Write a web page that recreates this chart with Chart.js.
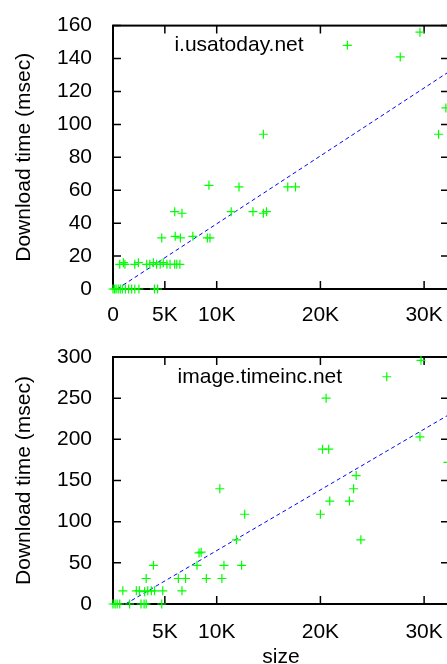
<!DOCTYPE html>
<html>
<head>
<meta charset="utf-8">
<script src="https://cdn.jsdelivr.net/npm/chart.js@4"></script>
<style>
html, body { margin: 0; padding: 0; background: #fff; overflow: hidden; width: 447px; height: 664px; }
canvas { position: absolute; left: 0; }
#topChart { top: 0; }
#bottomChart { top: 330px; }
</style>
</head>
<body>
<canvas id="topChart" width="460" height="330"></canvas>
<canvas id="bottomChart" width="460" height="350"></canvas>
<script>
// x ticks are not evenly spaced in the original (0, 5K, 10K, 20K, 30K)
var xTickValues = [0, 5000, 10000, 20000, 30000]
var xTickLabelsTop = [`0`, `5K`, `10K`, `20K`, `30K`]
var xTickLabelsBottom = [``, `5K`, `10K`, `20K`, `30K`]

// i.usatoday.net : size (bytes) / download time (msec)
var usatodaySize = [0, 150, 300, 500, 700, 900, 1200, 1500, 1800, 2100, 2500, 4000, 4300,
    650, 1000, 1150, 2100, 2450, 3250, 3550, 3900, 4200, 4550, 4850, 5200, 5500, 5950, 6150, 6450,
    4700, 6000, 6500, 7700, 9100, 9350,
    5950, 6650, 11400, 13500, 14500, 14800,
    9250, 12150, 16850, 17600,
    14500, 22600, 27700, 29600, 31400, 32100]
var usatodayTime = [0, 0, 0, 0, 0, 0, 0, 0, 0, 0, 0, 0, 0,
    15, 16, 15, 15, 16, 15, 15, 16, 15, 15, 16, 15, 15, 15, 15, 15,
    31, 32, 31, 32, 31, 31,
    47, 46, 47, 47, 46, 47,
    63, 62, 62, 62,
    94, 148, 141, 156, 94, 110]
var usatodayFitSize = [400, 32400]
var usatodayFitTime = [0, 132]

// image.timeinc.net
var timeincSize = [0, 200, 400, 650, 1600, 2700, 3000, 3200, 4700,
    950, 2250, 2550, 3050, 3350, 3700, 4000, 4800, 6650,
    3200, 6300, 7000, 9000, 10500,
    3900, 8100, 10700, 12400,
    8300, 8500,
    11900, 23900,
    12700, 20000,
    20900, 22800,
    10300, 23200,
    23450, 32300,
    20200, 20800,
    29600, 20550, 26400, 29700]
var timeincTime = [0, 0, 0, 0, 0, 0, 0, 0, 0,
    16, 16, 16, 15, 16, 16, 16, 16, 16,
    31, 31, 31, 31, 31,
    47, 47, 47, 47,
    62, 63,
    78, 78,
    109, 109,
    125, 125,
    140, 140,
    156, 172,
    188, 188,
    203, 250, 276, 296]
var timeincFitSize = [1200, 32400]
var timeincFitTime = [0, 230]

var fontFamily = `"Liberation Sans", Arial, Helvetica, sans-serif`
var fontSize = 21

Chart.defaults.color = `#000`
Chart.defaults.font.family = fontFamily
Chart.defaults.font.size = fontSize

// gnuplot style box with inward ticks on all four sides + label inside the plot
var framePlugin = {
    id: `frame`,
    beforeDatasetsDraw(chart, args, opts){
        var ctx = chart.ctx
        var a = chart.chartArea
        var x = chart.scales.x
        var y = chart.scales.y
        ctx.save()
        ctx.strokeStyle = `#000`
        ctx.lineWidth = 1.5
        ctx.beginPath()
        x.ticks.forEach(function(t){
            var px = x.getPixelForValue(t.value)
            ctx.moveTo(px, a.bottom); ctx.lineTo(px, a.bottom - 8)
            ctx.moveTo(px, a.top); ctx.lineTo(px, a.top + 8)
        })
        y.ticks.forEach(function(t){
            var py = y.getPixelForValue(t.value)
            ctx.moveTo(a.left, py); ctx.lineTo(a.left + 8, py)
            ctx.moveTo(a.right, py); ctx.lineTo(a.right - 8, py)
        })
        ctx.stroke()
        ctx.lineWidth = 2
        ctx.strokeRect(a.left, a.top, a.right - a.left, a.bottom - a.top)
        ctx.fillStyle = `#000`
        ctx.font = `${fontSize}px ${fontFamily}`
        ctx.textAlign = `center`
        ctx.textBaseline = `middle`
        ctx.fillText(opts.text, a.left + opts.fx * (a.right - a.left), a.top + opts.dy)
        ctx.restore()
    }
}

function toPoints(xs, ys){
    var list = []
    for(var pos = 0; pos < xs.length; pos++){
        list.push({x: xs[pos], y: ys[pos]})
    }
    return list
}

function makeChart(id, cfg){
    var canvas = document.getElementById(id)
    return new Chart(canvas, {
        type: `scatter`,
        data: {
            datasets: [{
                data: toPoints(cfg.sizes, cfg.times),
                pointStyle: `cross`,
                pointRadius: 4.5,
                pointBorderWidth: 1.2,
                borderColor: `#00ff00`,
                backgroundColor: `#00ff00`,
                clip: false
            }, {
                data: toPoints(cfg.fitSizes, cfg.fitTimes),
                showLine: true,
                pointRadius: 0,
                borderColor: `#0000ff`,
                borderWidth: 1,
                borderDash: [4, 3]
            }]
        },
        options: {
            responsive: false,
            animation: false,
            events: [],
            layout: {padding: {top: cfg.top, right: 11, left: 0, bottom: 0}},
            plugins: {
                legend: {display: false},
                tooltip: {enabled: false},
                frame: {text: cfg.label, fx: cfg.labelFx, dy: 20}
            },
            scales: {
                x: {
                    type: `linear`,
                    min: 0,
                    max: 32400,
                    grid: {display: false},
                    border: {display: false},
                    afterBuildTicks: function(scale){
                        scale.ticks = xTickValues.map(function(v){ return {value: v} })
                    },
                    afterFit: function(scale){ scale.height = cfg.xHeight },
                    ticks: {
                        padding: cfg.xPad,
                        maxRotation: 0,
                        callback: function(value, index){ return cfg.xLabels[index] }
                    },
                    title: {
                        display: cfg.showSize,
                        text: `size`,
                        padding: {top: 0, bottom: 10}
                    }
                },
                y: {
                    min: 0,
                    max: cfg.yMax,
                    grid: {display: false},
                    border: {display: false},
                    afterFit: function(scale){ scale.width = 113 },
                    ticks: {stepSize: cfg.yStep, padding: 13},
                    title: {
                        display: true,
                        text: `Download time (msec)`,
                        padding: {top: 12, bottom: 0}
                    }
                }
            }
        },
        plugins: [framePlugin]
    })
}

makeChart(`topChart`, {
    sizes: usatodaySize, times: usatodayTime,
    fitSizes: usatodayFitSize, fitTimes: usatodayFitTime,
    label: `i.usatoday.net`, labelFx: 0.375,
    xLabels: xTickLabelsTop, yMax: 160, yStep: 20,
    top: 21, xHeight: 41, xPad: 6, showSize: false
})

makeChart(`bottomChart`, {
    sizes: timeincSize, times: timeincTime,
    fitSizes: timeincFitSize, fitTimes: timeincFitTime,
    label: `image.timeinc.net`, labelFx: 0.437,
    xLabels: xTickLabelsBottom, yMax: 300, yStep: 50,
    top: 27, xHeight: 76, xPad: 8, showSize: true
})
</script>
</body>
</html>
